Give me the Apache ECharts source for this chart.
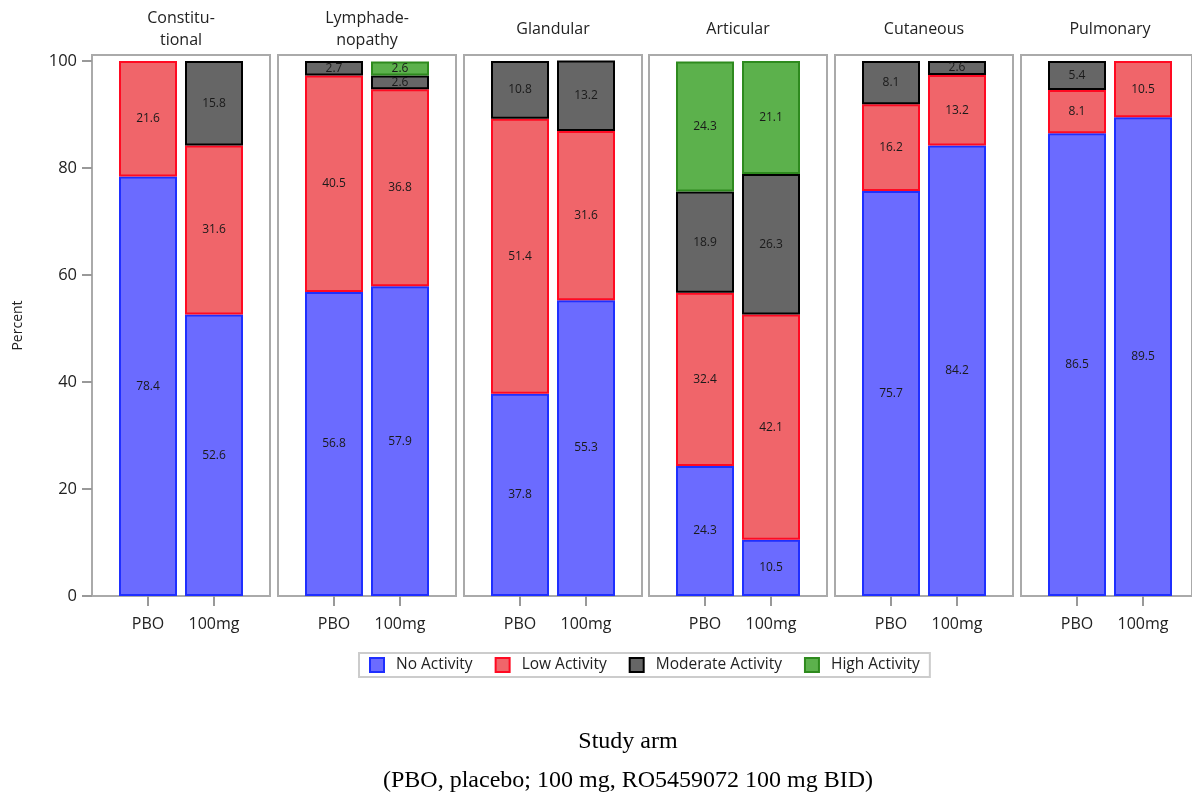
<!DOCTYPE html>
<html>
<head>
<meta charset="utf-8">
<script src="https://cdn.jsdelivr.net/npm/echarts@6/dist/echarts.min.js"></script>
<style>
  html, body { margin: 0; padding: 0; background: #fff; }
  #main { width: 1192px; height: 796px; }
</style>
</head>
<body>
<div id="main"></div>
<script>
// study arms (x categories inside each panel)
var arms = ['PBO', '100mg'];
// one panel per organ domain
var panelTitles = ['Constitu-\ntional', 'Lymphade-\nnopathy', 'Glandular', 'Articular', 'Cutaneous', 'Pulmonary'];
var levels = ['No Activity', 'Low Activity', 'Moderate Activity', 'High Activity'];
// percent of patients, per panel: [PBO, 100mg]
var noActivity       = [[78.4, 52.6], [56.8, 57.9], [37.8, 55.3], [24.3, 10.5], [75.7, 84.2], [86.5, 89.5]];
var lowActivity      = [[21.6, 31.6], [40.5, 36.8], [51.4, 31.6], [32.4, 42.1], [16.2, 13.2], [8.1, 10.5]];
var moderateActivity = [[0, 15.8],    [2.7, 2.6],   [10.8, 13.2], [18.9, 26.3], [8.1, 2.6],   [5.4, 0]];
var highActivity     = [[0, 0],       [0, 2.6],     [0, 0],       [24.3, 21.1], [0, 0],       [0, 0]];
var yTicks = [0, 20, 40, 60, 80, 100];

var levelData = [noActivity, lowActivity, moderateActivity, highActivity];
var fills   = ['#6b6bff', '#f0656a', '#666666', '#5cb14c'];
var borders = ['#1f2fff', '#ff0a22', '#000000', '#2e8a1e'];
var FONT = 'Open Sans';

var myChart = echarts.init(document.getElementById('main'));

var grids = [], xAxes = [], yAxes = [], series = [], graphics = [];
var yMax = 101.12;

for (var i = 0; i < panelTitles.length; i++) {
    var left = Math.round(92 + i * 185.8);
    // panel frame
    grids.push({left: left, top: 55, width: 178, height: 541, show: true,
        borderColor: '#aaaaaa', borderWidth: 2, backgroundColor: 'transparent'});
    // plotting area (narrower so bars sit in from the frame)
    grids.push({left: left + 23, top: 55, width: 132, height: 541});

    xAxes.push({type: 'category', gridIndex: 2 * i, data: arms, show: false});
    yAxes.push({
        type: 'value', gridIndex: 2 * i, min: 0, max: yMax, show: i === 0,
        name: i === 0 ? 'Percent' : '', nameLocation: 'middle', nameGap: 67,
        nameTextStyle: {fontSize: 14, color: '#222', fontFamily: FONT},
        axisLine: {show: false},
        axisTick: {show: true, customValues: yTicks, length: 10, lineStyle: {color: '#999', width: 2}},
        axisLabel: {customValues: yTicks, margin: 15, fontSize: 16.5, color: '#222', fontFamily: FONT},
        splitLine: {show: false}
    });

    xAxes.push({
        type: 'category', gridIndex: 2 * i + 1, data: arms,
        axisLine: {show: false},
        axisTick: {show: true, alignWithLabel: true, interval: 0, length: 10, lineStyle: {color: '#999', width: 2}},
        axisLabel: {interval: 0, margin: 20, fontSize: 16, color: '#222', fontFamily: FONT}
    });
    yAxes.push({type: 'value', gridIndex: 2 * i + 1, min: 0, max: yMax, show: false});

    for (var k = 0; k < levels.length; k++) {
        series.push({
            type: 'bar', name: levels[k], stack: 'p' + i,
            xAxisIndex: 2 * i + 1, yAxisIndex: 2 * i + 1,
            barWidth: 58,
            itemStyle: {color: fills[k], borderColor: borders[k], borderWidth: 2},
            label: {show: true, position: 'inside', fontSize: 12, color: '#1a1a1a', fontFamily: FONT,
                formatter: function (p) { return p.value.toFixed(1); }},
            data: levelData[k][i].map(function (v) { return v === 0 ? '-' : v; })
        });
    }

    graphics.push({type: 'text', x: left + 89, y: 29,
        style: {text: panelTitles[i], align: 'center', verticalAlign: 'middle',
            font: '16px "' + FONT + '"', fill: '#222', lineHeight: 22}});
}

graphics.push({type: 'text', x: 628, y: 742,
    style: {text: 'Study arm', align: 'center', verticalAlign: 'middle',
        font: '24px "Liberation Serif"', fill: '#000'}});
graphics.push({type: 'text', x: 628, y: 781,
    style: {text: '(PBO, placebo; 100 mg, RO5459072 100 mg BID)', align: 'center', verticalAlign: 'middle',
        font: '24px "Liberation Serif"', fill: '#000'}});

var option = {
    animation: false,
    backgroundColor: '#fff',
    grid: grids,
    xAxis: xAxes,
    yAxis: yAxes,
    legend: {
        data: levels, left: 359, top: 653, icon: 'rect',
        itemWidth: 14, itemHeight: 14, itemGap: 22,
        borderColor: '#cccccc', borderWidth: 2, padding: [4, 10, 4, 10],
        textStyle: {fontSize: 15.5, color: '#222', fontFamily: FONT, padding: [0, 0, 0, 7]}
    },
    graphic: graphics,
    series: series
};
myChart.setOption(option);
</script>
</body>
</html>
